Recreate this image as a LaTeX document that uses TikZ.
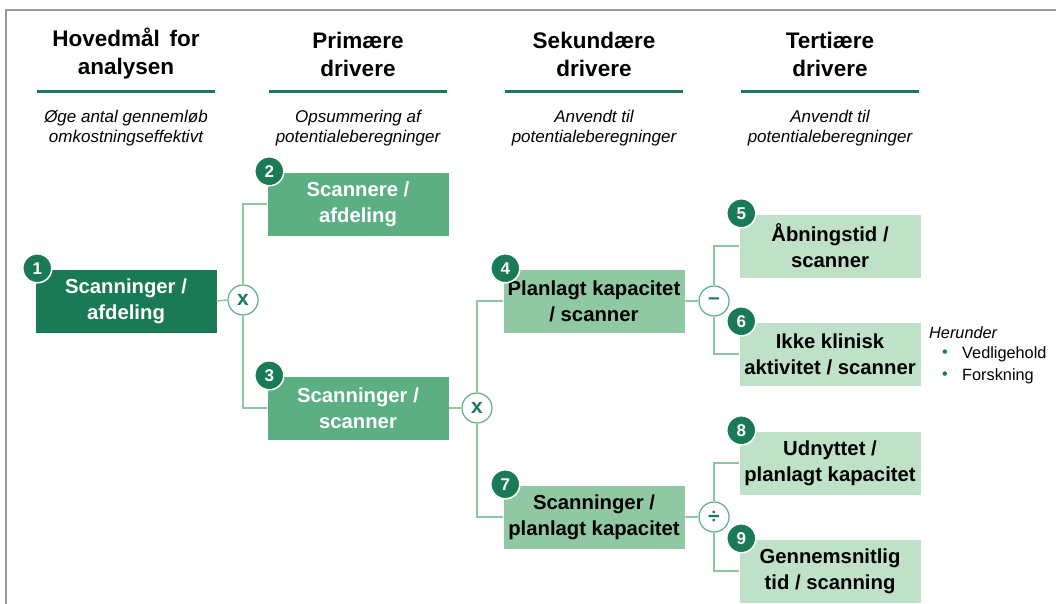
\documentclass[tikz,border=0pt]{standalone}
\usepackage{fontspec}
\setmainfont{Liberation Sans}
\definecolor{dk}{HTML}{1A7A56}
\definecolor{md}{HTML}{5BAF83}
\definecolor{lt}{HTML}{8FC8A2}
\definecolor{pl}{HTML}{BEE1C8}
\definecolor{ln}{HTML}{8DC8A3}
\definecolor{fr}{HTML}{999999}
\begin{document}
\begin{tikzpicture}[x=1pt,y=-1pt,
  box/.style={rectangle, minimum width=181pt, minimum height=63pt, inner sep=0pt, align=center,
    font=\bfseries\fontsize{20.3}{26}\selectfont},
  bdk/.style={box, fill=dk, text=white},
  bmd/.style={box, fill=md, text=white},
  blt/.style={box, fill=lt, text=black},
  bpl/.style={box, fill=pl, text=black},
  num/.style={circle, fill=dk, draw=white, line width=1.5pt, minimum size=29pt, inner sep=0pt,
    text=white, font=\bfseries\fontsize{17}{17}\selectfont},
  op/.style={circle, fill=white, draw=md, line width=1.2pt, minimum size=30pt, inner sep=0pt,
    text=dk, font=\bfseries\fontsize{21}{21}\selectfont},
  conn/.style={draw=ln, line width=1.5pt},
  head/.style={align=center, font=\bfseries\fontsize{22.5}{28}\selectfont},
  sub/.style={align=center, font=\itshape\fontsize{17}{20}\selectfont},
  rule/.style={draw=dk, line width=3pt},
  note/.style={anchor=west, inner sep=0pt, font=\fontsize{16.3}{18}\selectfont}
]
\useasboundingbox (0,0) rectangle (1056,604);
% frame
\draw[fr, line width=2pt] (1056,10) -- (6,10) -- (6,604);

% headers
\node[head] (h1) at (126,54) {Hovedmål\hspace{0.15em} for\\analysen};
\node[head] (h2) at (358,54) {Primære\\drivere};
\node[head] (h3) at (594,54) {Sekundære\\drivere};
\node[head] (h4) at (830,54) {Tertiære\\drivere};
\foreach \c in {126,358,594,830} \draw[rule] (\c-89,92) -- (\c+89,92);
\node[sub] (s1) at (126,128) {Øge antal gennemløb\\omkostningseffektivt};
\node[sub] (s2) at (358,128) {Opsummering af\\potentialeberegninger};
\node[sub] (s3) at (594,128) {Anvendt til\\potentialeberegninger};
\node[sub] (s4) at (830,128) {Anvendt til\\potentialeberegninger};

% boxes
\node[bdk] (b1) at (126,301) {Scanninger /\\afdeling};
\node[bmd] (b2) at (358,204) {Scannere /\\afdeling};
\node[bmd] (b3) at (358,408) {Scanninger /\\scanner};
\node[blt] (b4) at (594,301) {Planlagt kapacitet\\/ scanner};
\node[blt] (b7) at (594,517) {Scanninger /\\planlagt kapacitet};
\node[bpl] (b5) at (830,246) {Åbningstid /\\scanner};
\node[bpl] (b6) at (830,354) {Ikke klinisk\\aktivitet / scanner};
\node[bpl] (b8) at (830,463) {Udnyttet /\\planlagt kapacitet};
\node[bpl] (b9) at (830,571) {Gennemsnitlig\\tid / scanning};

% operators
\node[op] (o1) at (243,300) {x};
\node[op] (o2) at (477,408) {x};
\node[op] (o3) at (714,301) {–};
\node[op] (o4) at (714,517) {÷};

% connectors
\draw[conn] (b1.east) -- (o1.west);
\draw[conn] (o1.north) |- (b2.west);
\draw[conn] (o1.south) |- (b3.west);
\draw[conn] (b3.east) -- (o2.west);
\draw[conn] (o2.north) |- (b4.west);
\draw[conn] (o2.south) |- (b7.west);
\draw[conn] (b4.east) -- (o3.west);
\draw[conn] (o3.north) |- (b5.west);
\draw[conn] (o3.south) |- (b6.west);
\draw[conn] (b7.east) -- (o4.west);
\draw[conn] (o4.north) |- (b8.west);
\draw[conn] (o4.south) |- (b9.west);

% number badges
\foreach \b/\n in {b1/1,b2/2,b3/3,b4/4,b5/5,b6/6,b7/7,b8/8,b9/9}
  \node[num] (n\n) at ([xshift=2pt,yshift=1pt]\b.north west) {\n};

% note
\node[note, font=\itshape\fontsize{16.3}{18}\selectfont] (hr) at (929,333) {Herunder};
\node[note, text=dk] (d1) at (942,354) {•};
\node[note] (t1) at (962,354) {Vedligehold};
\node[note, text=dk] (d2) at (942,376) {•};
\node[note] (t2) at (962,376) {Forskning};
\end{tikzpicture}
\end{document}
